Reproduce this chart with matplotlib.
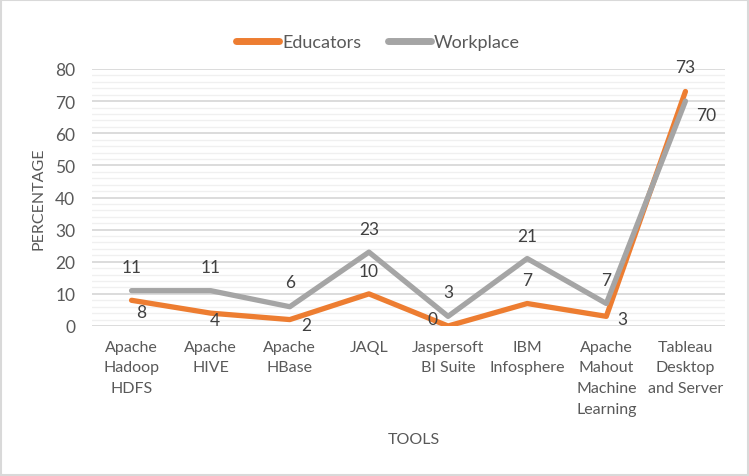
import matplotlib.pyplot as plt
from matplotlib.patches import Rectangle
from matplotlib.ticker import MultipleLocator

tools = ['Apache\nHadoop\nHDFS', 'Apache\nHIVE', 'Apache\nHBase', 'JAQL',
         'Jaspersoft\nBI Suite', 'IBM\nInfosphere', 'Apache\nMahout\nMachine\nLearning',
         'Tableau\nDesktop\nand Server']
educators = [8, 4, 2, 10, 0, 7, 3, 73]
workplace = [11, 11, 6, 23, 3, 21, 7, 70]

# label offsets in pixels (dx, dy), mimicking Excel's placement
edu_off = [(10, -12), (4, -7), (16, -5), (0, 23), (-16, 7), (0, 24), (16, -3), (0, 24)]
work_off = [(0, 24), (0, 24), (0, 25), (0, 23), (0, 24), (0, 23), (0, 24), (21, -14)]

plt.rcParams['font.family'] = ['Lato', 'DejaVu Sans']
txt = '#595959'
orange = '#ED7D31'
grey = '#A5A5A5'

fig = plt.figure(figsize=(7.49, 4.77), dpi=100)
ax = fig.add_axes([92 / 749, 1 - 327 / 477, (725 - 92) / 749, (327 - 70) / 477])

x = list(range(len(tools)))
ax.plot(x, educators, color=orange, lw=3.8, solid_capstyle='round',
        solid_joinstyle='round', label='Educators', zorder=3)
ax.plot(x, workplace, color=grey, lw=3.8, solid_capstyle='round',
        solid_joinstyle='round', label='Workplace', zorder=3)

px = 0.72
for i in x:
    dx, dy = edu_off[i]
    ax.annotate(str(educators[i]), (i, educators[i]), xytext=(dx * px, dy * px),
                textcoords='offset points', ha='center', va='center',
                fontsize=12.5, color='#404040', zorder=4)
    dx, dy = work_off[i]
    ax.annotate(str(workplace[i]), (i, workplace[i]), xytext=(dx * px, dy * px),
                textcoords='offset points', ha='center', va='center',
                fontsize=12.5, color='#404040', zorder=4)

ax.set_xlim(-0.5, len(tools) - 0.5)
ax.set_ylim(0, 80)
ax.yaxis.set_major_locator(MultipleLocator(10))
ax.yaxis.set_minor_locator(MultipleLocator(2))
ax.set_xticks(x)
ax.set_xticklabels(tools, fontsize=11.5, color=txt, linespacing=1.6)
ax.tick_params(axis='y', labelsize=12.5, labelcolor=txt, length=0, pad=12, which='both')
ax.tick_params(axis='x', length=0, pad=10)
ax.grid(axis='y', which='major', color='#D9D9D9', lw=1.3, zorder=0)
ax.grid(axis='y', which='minor', color='#F0F0F0', lw=1.0, zorder=0)
for s in ax.spines.values():
    s.set_visible(False)
ax.set_clip_on(False)

fig.text(38 / 749, 1 - 199 / 477, 'PERCENTAGE', rotation=90, ha='center', va='center',
         fontsize=11.5, color=txt)
fig.text(414 / 749, 1 - 440 / 477, 'TOOLS', ha='center', va='center',
         fontsize=11.5, color=txt)

leg = fig.legend(loc='center', bbox_to_anchor=(378 / 749, 1 - 43 / 477), ncol=2,
                 frameon=False, fontsize=13, labelcolor=txt, handlelength=2.4,
                 handletextpad=0.15, columnspacing=1.5)
for h in leg.legend_handles:
    h.set_linewidth(5)

fig.patches.append(Rectangle((0.002, 0.003), 0.996, 0.994, transform=fig.transFigure,
                             fill=False, edgecolor='#D9D9D9', lw=1.5))

fig.savefig('out.png', dpi=100, facecolor='white')
